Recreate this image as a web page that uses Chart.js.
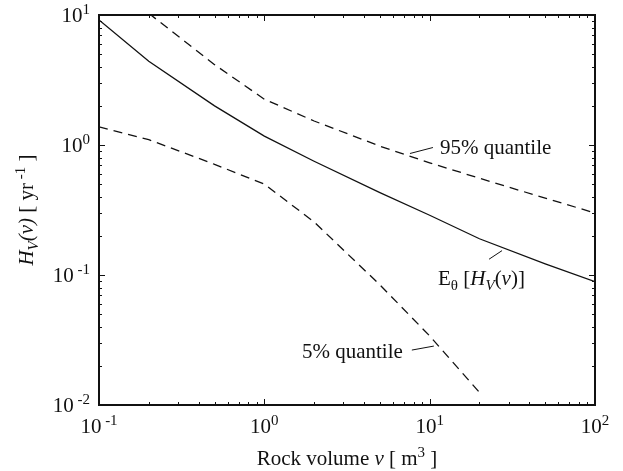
<!DOCTYPE html>
<html>
<head>
<meta charset="utf-8">
<script src="https://cdn.jsdelivr.net/npm/chart.js@4"></script>
<style>
html,body{margin:0;padding:0;background:#fff;}
canvas{display:block;}
</style>
</head>
<body>
<canvas id="c" width="623" height="471"></canvas>
<script>
// ---- data ----
const meanX = [0.1, 0.2, 0.5, 1, 2, 5, 10, 20, 50, 100];
const meanY = [9.15, 4.4, 2.0, 1.17, 0.75, 0.43, 0.288, 0.19, 0.122, 0.089];
const q95X = [0.2, 0.5, 1, 2, 5, 10, 20, 50, 100];
const q95Y = [10.3, 4.15, 2.25, 1.53, 0.98, 0.73, 0.555, 0.39, 0.30];
const q05X = [0.1, 0.2, 0.5, 1, 2, 5, 10, 20];
const q05Y = [1.38, 1.10, 0.71, 0.50, 0.256, 0.084, 0.034, 0.0125];
const xTickExps = [-1, 0, 1, 2];
const yTickExps = [-2, -1, 0, 1];
const xTitle = 'Rock volume';
const seriesNames = ['E_θ [H_V(v)]', '95% quantile', '5% quantile'];

const FONT = "'Liberation Serif','Times New Roman',serif";
const pts = (xs, ys) => xs.map((x, i) => ({x: x, y: ys[i]}));

function setFont(ctx, p) {
  ctx.font = (p.it ? 'italic ' : '') + p.sz + 'px ' + FONT;
}
function richWidth(ctx, parts) {
  let w = 0;
  parts.forEach(p => { setFont(ctx, p); w += ctx.measureText(p.t).width; });
  return w;
}
function drawRich(ctx, x, y, parts, align) {
  const w = richWidth(ctx, parts);
  let cx = align === 'center' ? x - w / 2 : (align === 'right' ? x - w : x);
  ctx.textBaseline = 'alphabetic';
  ctx.textAlign = 'left';
  parts.forEach(p => {
    setFont(ctx, p);
    ctx.fillText(p.t, cx, y + (p.dy || 0));
    cx += ctx.measureText(p.t).width;
  });
}
const N = 21, S = 15;
function powLabel(e) {
  const sup = e < 0 ? ' -' + (-e) : String(e);
  return [{t: '10', sz: N}, {t: sup, sz: S, dy: -8}];
}

const annotations = [
  {anchor: {x: 7.6, y: 0.86}, lineTo: [23, -6], text: [{t: seriesNames[1], sz: N}], textAt: [30, 0], align: 'left'},
  {anchor: {x: 27.4, y: 0.154}, lineTo: [-13, 8.6],
   text: [{t: 'E', sz: N}, {t: 'θ', sz: S, dy: 5}, {t: ' [', sz: N}, {t: 'H', sz: N, it: true},
          {t: 'V', sz: S, it: true, dy: 5}, {t: '(', sz: N}, {t: 'v', sz: N, it: true}, {t: ')]', sz: N}],
   textAt: [-64, 34], align: 'left'},
  {anchor: {x: 10.6, y: 0.0284}, lineTo: [-22, 4], text: [{t: seriesNames[2], sz: N}], textAt: [-31, 12], align: 'right'}
];

const decor = {
  id: 'decor',
  afterDraw(chart) {
    const ctx = chart.ctx, a = chart.chartArea;
    const xs = chart.scales.x, ys = chart.scales.y;
    ctx.save();
    ctx.fillStyle = '#111';
    ctx.strokeStyle = '#111';
    // ticks
    ctx.lineWidth = 1;
    ctx.beginPath();
    for (let e = -1; e < 2; e++) {
      for (let m = 1; m <= 9; m++) {
        const v = m * Math.pow(10, e);
        const px = Math.round(xs.getPixelForValue(v)) + 0.5;
        const len = m === 1 ? 6 : 3;
        ctx.moveTo(px, a.bottom); ctx.lineTo(px, a.bottom - len);
        ctx.moveTo(px, a.top); ctx.lineTo(px, a.top + len);
      }
    }
    for (let e = -2; e < 1; e++) {
      for (let m = 1; m <= 9; m++) {
        const v = m * Math.pow(10, e);
        const py = Math.round(ys.getPixelForValue(v)) + 0.5;
        const len = m === 1 ? 6 : 3;
        ctx.moveTo(a.left, py); ctx.lineTo(a.left + len, py);
        ctx.moveTo(a.right, py); ctx.lineTo(a.right - len, py);
      }
    }
    ctx.stroke();
    // frame
    ctx.lineWidth = 2;
    ctx.strokeRect(a.left, a.top, a.right - a.left, a.bottom - a.top);
    // tick labels
    xTickExps.forEach(e => {
      const px = xs.getPixelForValue(Math.pow(10, e));
      drawRich(ctx, px, a.bottom + 28, powLabel(e), 'center');
    });
    yTickExps.forEach(e => {
      const py = ys.getPixelForValue(Math.pow(10, e));
      drawRich(ctx, a.left - 9, py + 7, powLabel(e), 'right');
    });
    // x title
    drawRich(ctx, (a.left + a.right) / 2, a.bottom + 60,
      [{t: xTitle + ' ', sz: N}, {t: 'v', sz: N, it: true}, {t: ' [ m', sz: N}, {t: '3', sz: S, dy: -8}, {t: ' ]', sz: N}], 'center');
    // y title
    ctx.save();
    ctx.translate(33, (a.top + a.bottom) / 2);
    ctx.rotate(-Math.PI / 2);
    drawRich(ctx, 0, 0, [{t: 'H', sz: N, it: true}, {t: 'V', sz: S, it: true, dy: 5}, {t: '(v)', sz: N, it: true},
      {t: ' [ yr', sz: N}, {t: ' -1', sz: S, dy: -8}, {t: ' ]', sz: N}], 'center');
    ctx.restore();
    // annotations
    ctx.lineWidth = 1;
    annotations.forEach(an => {
      const px = xs.getPixelForValue(an.anchor.x), py = ys.getPixelForValue(an.anchor.y);
      ctx.beginPath();
      ctx.moveTo(px, py);
      ctx.lineTo(px + an.lineTo[0], py + an.lineTo[1]);
      ctx.stroke();
      drawRich(ctx, px + an.textAt[0], py + an.textAt[1], an.text, an.align);
    });
    ctx.restore();
  }
};

new Chart(document.getElementById('c'), {
  type: 'scatter',
  data: {
    datasets: [
      {label: seriesNames[0], data: pts(meanX, meanY), showLine: true, borderColor: '#111', borderWidth: 1.3, pointRadius: 0, tension: 0},
      {label: seriesNames[1], data: pts(q95X, q95Y), showLine: true, borderColor: '#111', borderWidth: 1.3, borderDash: [9, 6], pointRadius: 0, tension: 0},
      {label: seriesNames[2], data: pts(q05X, q05Y), showLine: true, borderColor: '#111', borderWidth: 1.3, borderDash: [9, 6], pointRadius: 0, tension: 0}
    ]
  },
  options: {
    responsive: false,
    animation: false,
    devicePixelRatio: 1,
    layout: {padding: {left: 99, right: 28, top: 15, bottom: 66}},
    plugins: {legend: {display: false}, tooltip: {enabled: false}},
    scales: {
      x: {type: 'logarithmic', min: 0.1, max: 100, display: false},
      y: {type: 'logarithmic', min: 0.01, max: 10, display: false}
    }
  },
  plugins: [decor]
});
</script>
</body>
</html>
